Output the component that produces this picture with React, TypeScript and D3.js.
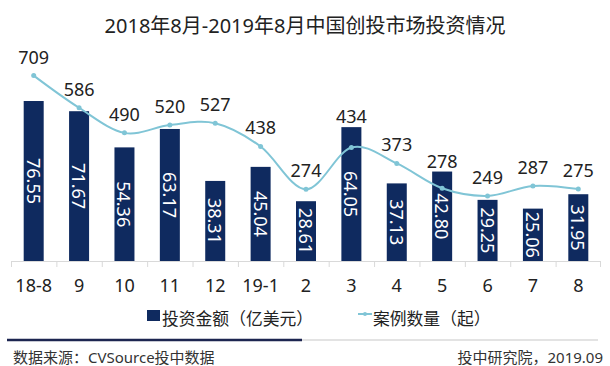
import React from "react";
import * as d3 from "d3";

const months = ["18-8", "9", "10", "11", "12", "19-1", "2", "3", "4", "5", "6", "7", "8"];
const amounts = [76.55, 71.67, 54.36, 63.17, 38.31, 45.04, 28.61, 64.05, 37.13, 42.8, 29.25, 25.06, 31.95];
const cases = [709, 586, 490, 520, 527, 438, 274, 434, 373, 278, 249, 287, 275];

const W = 610, H = 366;
const base = 261;
const font = "'Noto Sans', 'Noto Sans CJK SC', sans-serif";
const navy = "#0f2a5f";
const cyan = "#80c5d6";

export default function App() {
  const x = d3.scaleBand().domain(months).range([11, 601]).padding(0);
  const yBar = d3.scaleLinear().domain([0, 90]).range([base, base - 90 * 2.09]);
  const yLine = d3.scaleLinear().domain([0, 800]).range([base, base - 800 * 0.2615]);
  const bw = 20;
  const cx = (m: string) => (x(m) as number) + x.bandwidth() / 2;

  const line = d3
    .line<number>()
    .x((d, i) => cx(months[i]))
    .y((d) => yLine(d))
    .curve(d3.curveCardinal.tension(0));

  return (
    <svg width={W} height={H} style={{ position: "absolute", left: 0, top: 0, background: "#fff" }} fontFamily={font}>
      <text x={305} y={25} textAnchor="middle" dominantBaseline="central" fontSize={20} fill="#222">
        2018年8月-2019年8月中国创投市场投资情况
      </text>

      {/* axis */}
      <line x1={11} x2={601} y1={base + 0.5} y2={base + 0.5} stroke="#d9d9d9" />
      {months.map((m, i) => (
        <line key={"t" + i} x1={(x(m) as number) + 0.5} x2={(x(m) as number) + 0.5} y1={base} y2={base + 6} stroke="#d9d9d9" />
      ))}
      <line x1={600.5} x2={600.5} y1={base} y2={base + 6} stroke="#d9d9d9" />

      {amounts.map((v, i) => (
        <rect key={"b" + i} x={cx(months[i]) - bw / 2} y={yBar(v)} width={bw} height={base - yBar(v)} fill={navy} />
      ))}
      {amounts.map((v, i) => {
        const mx = cx(months[i]);
        const my = (yBar(v) + base) / 2;
        return (
          <text key={"bl" + i} x={mx} y={my} transform={`rotate(90 ${mx} ${my})`} textAnchor="middle"
            dominantBaseline="central" fontSize={18} fill="#fff">
            {v.toFixed(2)}
          </text>
        );
      })}

      <path d={line(cases) as string} fill="none" stroke={cyan} strokeWidth={2} />
      {cases.map((v, i) => (
        <circle key={"c" + i} cx={cx(months[i])} cy={yLine(v)} r={2.5} fill={cyan} />
      ))}
      {cases.map((v, i) => {
        const ly = Math.min(yLine(v) - 19, yBar(amounts[i]) - 11);
        return (
          <text key={"cl" + i} x={cx(months[i])} y={ly} textAnchor="middle" dominantBaseline="central" fontSize={18} fill="#222">
            {v}
          </text>
        );
      })}

      {months.map((m, i) => (
        <text key={"x" + i} x={cx(m)} y={285} textAnchor="middle" dominantBaseline="central" fontSize={18} fill="#222">
          {m}
        </text>
      ))}

      {/* legend */}
      <rect x={147} y={310} width={13} height={11} fill={navy} />
      <text x={162} y={318} dominantBaseline="central" fontSize={16.8} fill="#222">投资金额（亿美元）</text>
      <line x1={358} x2={372} y1={314} y2={314} stroke={cyan} strokeWidth={2} />
      <circle cx={365} cy={314} r={2} fill={cyan} />
      <text x={373} y={318} dominantBaseline="central" fontSize={16.8} fill="#222">案例数量（起）</text>

      {/* footer */}
      <line x1={302} x2={598} y1={340} y2={340} stroke="#e3e3e3" strokeWidth={2} />
      <line x1={7} x2={302} y1={340} y2={340} stroke="#1c2550" strokeWidth={2.5} />
      <text x={13} y={357} dominantBaseline="central" fontSize={15} fill="#333">数据来源：CVSource投中数据</text>
      <text x={603} y={357} textAnchor="end" dominantBaseline="central" fontSize={15} fill="#333">投中研究院，2019.09</text>
    </svg>
  );
}
